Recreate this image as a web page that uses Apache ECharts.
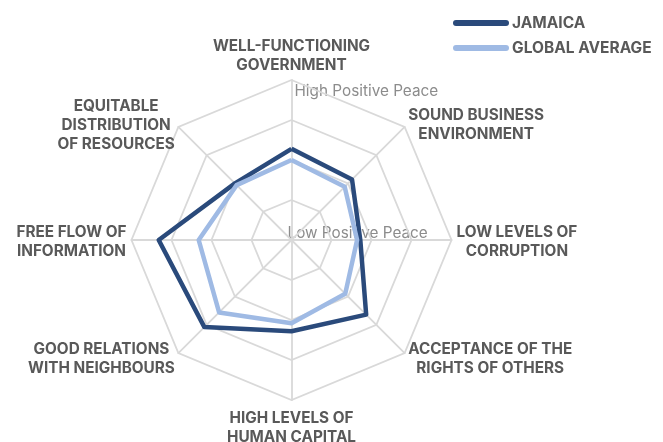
<!DOCTYPE html>
<html>
<head>
<meta charset="utf-8">
<script src="https://cdn.jsdelivr.net/npm/echarts@6/dist/echarts.min.js"></script>
<style>
    html, body { margin: 0; padding: 0; background: #fff; }
    #chart { width: 663px; height: 442px; }
</style>
</head>
<body>
<div id="chart"></div>
<script>
// indicators in echarts order (counter-clockwise from the top)
var indicators = [
    'WELL-FUNCTIONING\nGOVERNMENT',
    'EQUITABLE\nDISTRIBUTION\nOF RESOURCES',
    'FREE FLOW OF\nINFORMATION',
    'GOOD RELATIONS\nWITH NEIGHBOURS',
    'HIGH LEVELS OF\nHUMAN CAPITAL',
    'ACCEPTANCE OF THE\nRIGHTS OF OTHERS',
    'LOW LEVELS OF\nCORRUPTION',
    'SOUND BUSINESS\nENVIRONMENT'
];
var jamaica = [0.57, 0.50, 0.83, 0.77, 0.57, 0.66, 0.43, 0.535];
var globalAvg = [0.50, 0.485, 0.58, 0.64, 0.52, 0.475, 0.41, 0.47];
var scaleLabels = ['Low Positive Peace', 'High Positive Peace'];

var cx = 291.5, cy = 240, r = 160;
var grey = '#595959';

var chart = echarts.init(document.getElementById('chart'));

var option = {
    animation: false,
    legend: {
        orient: 'vertical',
        left: 448,
        top: 10,
        itemWidth: 56,
        itemHeight: 6,
        itemGap: 9,
        icon: 'path://M3,0 L53,0 A3,3 0 0 1 53,6 L3,6 A3,3 0 0 1 3,0 Z',
        textStyle: { fontFamily: 'Inter', fontWeight: 'bold', fontSize: 15.5, color: grey, padding: [0, 0, 0, -2] },
        data: ['JAMAICA', 'GLOBAL AVERAGE']
    },
    radar: {
        center: [cx, cy],
        radius: r,
        startAngle: 90,
        shape: 'polygon',
        splitNumber: 4,
        nameGap: 5,
        indicator: indicators.map(function (name) {
            return { name: name, min: 0, max: 1 };
        }),
        axisName: {
            padding: [4, 0, 0, 0],
            formatter: function (name) {
                return name.split('\n').map(function (s) { return '{a|' + s + '}'; }).join('\n');
            },
            rich: {
                a: { fontFamily: 'Inter', fontWeight: 'bold', fontSize: 15.3, color: grey, align: 'center', lineHeight: 19 }
            }
        },
        splitLine: { lineStyle: { color: '#d9d9d9', width: 1.8 } },
        axisLine: { lineStyle: { color: '#d9d9d9', width: 1.8 } },
        splitArea: { show: false },
        axisLabel: { show: false },
        axisTick: { show: false }
    },
    graphic: [
        {
            type: 'text',
            left: cx - 4,
            top: cy - 14,
            style: { text: scaleLabels[0], fontFamily: 'Inter', fontSize: 15.3, fill: '#8c8c8c' }
        },
        {
            type: 'text',
            left: cx + 3,
            top: cy - r + 4,
            style: { text: scaleLabels[1], fontFamily: 'Inter', fontSize: 15.3, fill: '#8c8c8c' }
        }
    ],
    series: [
        {
            type: 'radar',
            symbol: 'none',
            data: [
                {
                    name: 'JAMAICA',
                    value: jamaica,
                    itemStyle: { color: '#2a4a7b' },
                    lineStyle: { color: '#2a4a7b', width: 4.5 }
                },
                {
                    name: 'GLOBAL AVERAGE',
                    value: globalAvg,
                    itemStyle: { color: '#9fbae4' },
                    lineStyle: { color: '#9fbae4', width: 4.5 }
                }
            ]
        }
    ]
};
chart.setOption(option);
</script>
</body>
</html>
